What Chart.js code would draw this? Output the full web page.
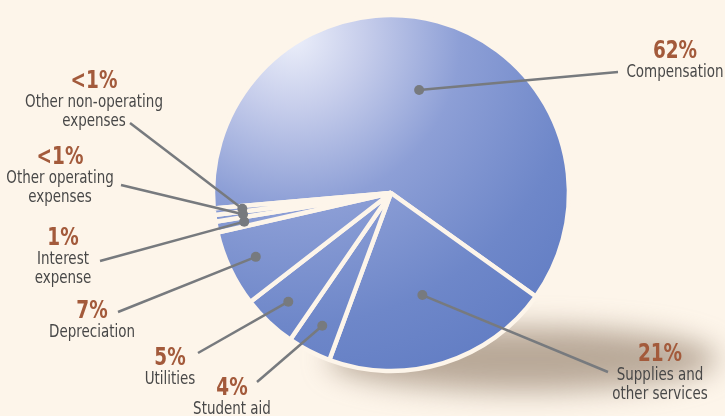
<!DOCTYPE html>
<html>
<head>
<meta charset="utf-8">
<script src="https://cdn.jsdelivr.net/npm/chart.js@4/dist/chart.umd.min.js"></script>
<style>
  html, body { margin: 0; padding: 0; background: #fdf5ea; }
  #wrap { width: 725px; height: 416px; position: relative; }
</style>
</head>
<body>
<div id="wrap"><canvas id="expensePie"></canvas></div>
<script>
// expense breakdown, clockwise from the top-left edge
var categories = [
  ["Compensation"],
  ["Supplies and", "other services"],
  ["Student aid"],
  ["Utilities"],
  ["Depreciation"],
  ["Interest", "expense"],
  ["Other operating", "expenses"],
  ["Other non-operating", "expenses"]
];
var shares = [62, 21, 4, 5, 7, 1, 0.6, 0.6];
var shareLabels = ["62%", "21%", "4%", "5%", "7%", "1%", "<1%", "<1%"];

// where each callout sits: end of the leader line, text centre, first baseline
var callouts = [
  { lx: 618, ly: 72,  tx: 675, ty: 58 },
  { lx: 608, ly: 372, tx: 660, ty: 361 },
  { lx: 257, ly: 382, tx: 232, ty: 395 },
  { lx: 198, ly: 353, tx: 170, ty: 365 },
  { lx: 118, ly: 312, tx: 92,  ty: 318 },
  { lx: 100, ly: 261, tx: 63,  ty: 245 },
  { lx: 121, ly: 185, tx: 60,  ty: 164 },
  { lx: 130, ly: 123, tx: 94,  ty: 88 }
];

var bgColor = "#fdf5ea";
var condensed = "'DejaVu Sans Condensed', 'Liberation Sans', sans-serif";

var pieFill = null;
function getPieFill(chart) {
  var area = chart.chartArea;
  if (!area) return "#7d93cf";
  if (pieFill) return pieFill;
  var c = chart.ctx;
  var cx = area.left + 95, cy = area.top + 22;
  var g = c.createRadialGradient(cx, cy, 0, cx, cy, 400);
  g.addColorStop(0, "#eceffa");
  g.addColorStop(0.18, "#c6cdeb");
  g.addColorStop(0.42, "#8d9fd6");
  g.addColorStop(0.72, "#6e87c9");
  g.addColorStop(1, "#5e7ac2");
  pieFill = g;
  return g;
}

// squeezed text, the labels use a narrow face
function narrowText(c, txt, x, y, sx) {
  c.save();
  c.translate(x, y);
  c.scale(sx, 1);
  c.fillText(txt, 0, 0);
  c.restore();
}

var backdrop = {
  id: "backdrop",
  beforeDraw: function(chart) {
    var c = chart.ctx;
    c.save();
    c.fillStyle = bgColor;
    c.fillRect(0, 0, chart.width, chart.height);
    c.restore();
  },
  beforeDatasetsDraw: function(chart) {
    // soft shadow under the lower right of the pie
    var arc = chart.getDatasetMeta(0).data[0];
    var c = chart.ctx;
    c.save();
    c.filter = "blur(14px)";
    c.fillStyle = "rgba(140, 118, 98, 0.6)";
    c.beginPath();
    c.ellipse(arc.x + 132, arc.y + 166, 195, 32, 0, 0, Math.PI * 2);
    c.fill();
    c.restore();
  }
};

var calloutPlugin = {
  id: "callouts",
  afterDatasetsDraw: function(chart) {
    var c = chart.ctx;
    var arcs = chart.getDatasetMeta(0).data;
    c.save();
    arcs.forEach(function(arc, i) {
      var p = arc.getProps(["x", "y", "startAngle", "endAngle", "outerRadius"], true);
      var mid = (p.startAngle + p.endAngle) / 2;
      var frac = shares[i] >= 20 ? 0.6 : 0.84;
      var dx = p.x + Math.cos(mid) * p.outerRadius * frac;
      var dy = p.y + Math.sin(mid) * p.outerRadius * frac;
      var co = callouts[i];

      c.strokeStyle = "#777a7e";
      c.lineWidth = 2.5;
      c.beginPath();
      c.moveTo(co.lx, co.ly);
      c.lineTo(dx, dy);
      c.stroke();
      c.fillStyle = "#777a7e";
      c.beginPath();
      c.arc(dx, dy, 5, 0, Math.PI * 2);
      c.fill();

      c.textAlign = "center";
      c.textBaseline = "alphabetic";
      c.fillStyle = "#a35a3b";
      c.font = "bold 25px " + condensed;
      narrowText(c, shareLabels[i], co.tx, co.ty, 0.82);
      c.fillStyle = "#484848";
      c.font = "17px " + condensed;
      categories[i].forEach(function(line, k) {
        narrowText(c, line, co.tx, co.ty + 19 + k * 19, 0.88);
      });
    });
    c.restore();
  }
};

new Chart("expensePie", {
  type: "pie",
  data: {
    labels: categories.map(function(l) { return l.join(" "); }),
    datasets: [{
      data: shares,
      backgroundColor: function(ctx) { return getPieFill(ctx.chart); },
      borderColor: bgColor,
      borderWidth: 4.5,
      borderJoinStyle: "bevel",
      hoverOffset: 0,
      radius: 178
    }]
  },
  options: {
    responsive: true,
    maintainAspectRatio: false,
    animation: false,
    events: [],
    rotation: 265,
    layout: { padding: { top: 15, bottom: 45, left: 198, right: 141 } },
    plugins: {
      legend: { display: false },
      tooltip: { enabled: false }
    }
  },
  plugins: [backdrop, calloutPlugin]
});
</script>
</body>
</html>
